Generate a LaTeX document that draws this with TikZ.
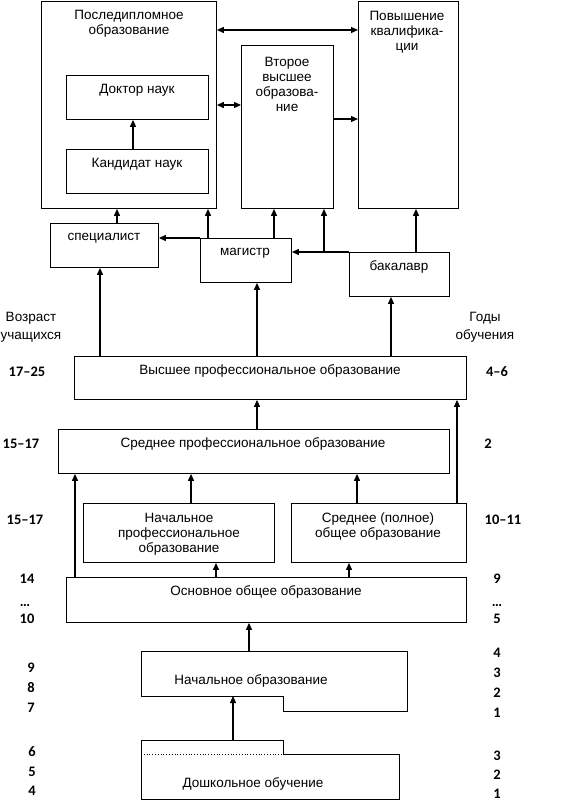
\documentclass[tikz,border=0pt]{standalone}
\usepackage{fontspec}
\setmainfont{Liberation Sans}
\newfontfamily\numfont{Carlito}
\usetikzlibrary{arrows.meta,positioning}

\begin{document}
\begin{tikzpicture}[x=1pt, y=-1pt,
  box/.style={draw, line width=0.9pt, inner sep=0pt, anchor=north west},
  lbl/.style={font=\fontsize{13.5}{15}\selectfont, align=center, inner sep=0pt},
  side/.style={font=\fontsize{13.5}{18}\selectfont, align=center, inner sep=0pt},
  num/.style={font=\numfont\bfseries\fontsize{14.5}{16}\selectfont, inner sep=0pt},
  arr/.style={line width=1.2pt, -{Triangle[length=7pt,width=6pt]}},
  dbl/.style={line width=1.2pt, {Triangle[length=7pt,width=6pt]}-{Triangle[length=7pt,width=6pt]}}]

\useasboundingbox (0,0) rectangle (565,802);

% Top row of boxes
\node[box, minimum width=175pt, minimum height=207pt] (post) at (41,1) {};
\node[lbl] (postT) at (129,24) {Последипломное\\образование};
\node[box, minimum width=142pt, minimum height=44pt] (dok) at (66,75) {};
\node[lbl] (dokT) at (137,90) {Доктор наук};
\node[box, minimum width=142pt, minimum height=44pt] (kand) at (66,149) {};
\node[lbl] (kandT) at (137,164) {Кандидат наук};
\node[box, minimum width=92pt, minimum height=163pt] (vtor) at (241,45) {};
\node[lbl] (vtorT) at (287,84) {Второе\\высшее\\образова-\\ние};
\node[box, minimum width=100pt, minimum height=207pt] (pov) at (358,1) {};
\node[lbl] (povT) at (407,32) {Повышение\\квалифика-\\ции};

% Degrees
\node[box, minimum width=108pt, minimum height=44pt] (spec) at (50,223) {};
\node[lbl] (specT) at (104,238) {специалист};
\node[box, minimum width=91pt, minimum height=44pt] (mag) at (200,238) {};
\node[lbl] (magT) at (245,253) {магистр};
\node[box, minimum width=100pt, minimum height=44pt] (bak) at (349,252) {};
\node[lbl] (bakT) at (399,267) {бакалавр};

% Levels
\node[box, minimum width=392pt, minimum height=43pt] (vys) at (74,356) {};
\node[lbl] (vysT) at (270,371) {Высшее профессиональное образование};
\node[box, minimum width=391pt, minimum height=44pt] (sprof) at (58,429) {};
\node[lbl] (sprofT) at (253,444) {Среднее профессиональное образование};
\node[box, minimum width=191pt, minimum height=59pt] (nprof) at (83,503) {};
\node[lbl] (nprofT) at (179,534) {Начальное\\профессиональное\\образование};
\node[box, minimum width=175pt, minimum height=59pt] (spoln) at (291,503) {};
\node[lbl] (spolnT) at (378,527) {Среднее (полное)\\общее образование};
\node[box, minimum width=400pt, minimum height=45pt] (osn) at (66,577) {};
\node[lbl] (osnT) at (266,592) {Основное общее образование};

% Primary and preschool
\draw[line width=0.9pt] (141,651) -- (407,651) -- (407,711) -- (283,711) -- (283,696) -- (141,696) -- cycle;
\node[lbl] (nachT) at (251,681) {Начальное образование};
\draw[line width=0.9pt] (141,740) -- (283,740) -- (283,754) -- (399,754) -- (399,799) -- (141,799) -- cycle;
\draw[line width=0.8pt, dotted] (141,754) -- (283,754);
\node[lbl] (doshT) at (253,784) {Дошкольное обучение};
\coordinate (nachN) at (249,651);
\coordinate (nachS) at (233,696);
\coordinate (doshN) at (233,740);

% Connectors
\draw[dbl] (post.east |- 0,30) -- (pov.west |- 0,30);
\draw[dbl] (post.east |- 0,105) -- (vtor.west |- 0,105);
\draw[arr] (vtor.east |- 0,119) -- (pov.west |- 0,119);
\draw[arr] (kand.north -| 133,0) -- (dok.south -| 133,0);
\draw[arr] (spec.north -| 117,0) -- (post.south -| 117,0);
\draw[arr] (mag.north -| 208,0) -- (post.south -| 208,0);
\draw[arr] (mag.north -| 274,0) -- (vtor.south -| 274,0);
\draw[arr] (mag.north west) -- (spec.east |- mag.north);
\draw[arr] (bak.north west) -- (mag.east |- bak.north);
\draw[arr] (bak.north -| 324,0) -- (vtor.south -| 324,0);
\draw[arr] (bak.north -| 416,0) -- (pov.south -| 416,0);
\draw[arr] (vys.north -| 100,0) -- (spec.south -| 100,0);
\draw[arr] (vys.north -| 257,0) -- (mag.south -| 257,0);
\draw[arr] (vys.north -| 391,0) -- (bak.south -| 391,0);
\draw[arr] (sprof.north -| 257,0) -- (vys.south -| 257,0);
\draw[arr] (spoln.north -| 457,0) -- (vys.south -| 457,0);
\draw[arr] (osn.north -| 75,0) -- (sprof.south -| 75,0);
\draw[arr] (nprof.north -| 191,0) -- (sprof.south -| 191,0);
\draw[arr] (spoln.north -| 357,0) -- (sprof.south -| 357,0);
\draw[arr] (osn.north -| 216,0) -- (nprof.south -| 216,0);
\draw[arr] (osn.north -| 349,0) -- (spoln.south -| 349,0);
\draw[arr] (nachN) -- (osn.south -| nachN);
\draw[arr] (doshN) -- (nachS);

% Age column
\node[side] (age) at (31,327) {Возраст\\учащихся};
\node[num] (a1) at (27,372) {17–25};
\node[num] (a2) at (21,444) {15–17};
\node[num] (a3) at (25,520) {15–17};
\node[num] (a4) at (27,579) {14};
\node[num, anchor=base] (a5) at (25,606) {…};
\node[num] (a6) at (27,619) {10};
\node[num] (a7) at (31,668) {9};
\node[num] (a8) at (31,688) {8};
\node[num] (a9) at (31,708) {7};
\node[num] (a10) at (32,752) {6};
\node[num] (a11) at (32,772) {5};
\node[num] (a12) at (32,791) {4};

% Years column
\node[side] (years) at (485,327) {Годы\\обучения};
\node[num] (y1) at (497,372) {4–6};
\node[num] (y2) at (488,444) {2};
\node[num] (y3) at (503,520) {10–11};
\node[num] (y4) at (497,579) {9};
\node[num, anchor=base] (y5) at (497,606) {…};
\node[num] (y6) at (497,619) {5};
\node[num] (y7) at (497,653) {4};
\node[num] (y8) at (497,673) {3};
\node[num] (y9) at (497,693) {2};
\node[num] (y10) at (497,713) {1};
\node[num] (y11) at (497,756) {3};
\node[num] (y12) at (497,775) {2};
\node[num] (y13) at (497,794) {1};

\end{tikzpicture}
\end{document}
